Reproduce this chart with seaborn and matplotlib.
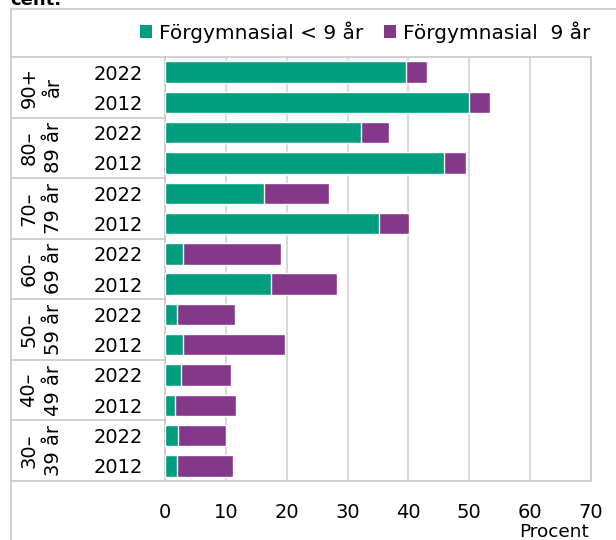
import matplotlib
matplotlib.use("Agg")
import matplotlib.pyplot as plt
import seaborn as sns
import pandas as pd
from matplotlib.transforms import blended_transform_factory
from matplotlib.patches import Rectangle, Patch

sns.set_style("white")
plt.rcParams['font.family'] = ['DejaVu Sans']
plt.rcParams['text.color'] = 'black'
plt.rcParams['xtick.color'] = 'black'
plt.rcParams['ytick.color'] = 'black'

groups = ["90+\når", "80–\n89 år", "70–\n79 år", "60–\n69 år", "50–\n59 år", "40–\n49 år", "30–\n39 år"]
years = ["2022", "2012"]
under9 = [39.6, 49.9, 32.2, 45.9, 16.3, 35.2, 2.9, 17.4, 2.0, 2.9, 2.7, 1.7, 2.2, 2.0]
nine = [3.5, 3.5, 4.6, 3.5, 10.6, 4.9, 16.1, 10.9, 9.5, 16.8, 8.2, 10.0, 7.9, 9.1]
series_labels = ["Förgymnasial < 9 år", "Förgymnasial  9 år"]
colors = ["#009E7E", "#843889"]

rows = []
keys = []
i = 0
for g in groups:
    for y in years:
        key = g.replace("\n", " ") + " " + y
        keys.append(key)
        rows.append({"key": key, "year": y, "under9": under9[i], "total": under9[i] + nine[i]})
        i += 1
df = pd.DataFrame(rows)

W, H = 616, 540
fig = plt.figure(figsize=(W / 100, H / 100), dpi=100)
L, R, T, B = 165, 591, 57, 481
ax = fig.add_axes([L / W, 1 - B / H, (R - L) / W, (B - T) / H])

sns.barplot(data=df, y="key", x="total", order=keys, color=colors[1], orient="h",
            width=0.71, edgecolor="white", linewidth=1, saturation=1, ax=ax, zorder=3)
sns.barplot(data=df, y="key", x="under9", order=keys, color=colors[0], orient="h",
            width=0.71, edgecolor="white", linewidth=1, saturation=1, ax=ax, zorder=4)

ax.set_xlim(0, 70)
ax.set_ylim(len(keys) - 0.5, -0.5)
ax.set_xticks(range(0, 71, 10))
ax.set_xticklabels([str(v) for v in range(0, 71, 10)], fontsize=14)
ax.set_yticks(range(len(keys)))
ax.set_yticklabels([k[-4:] for k in keys], fontsize=14)
ax.tick_params(axis="y", length=0, pad=16)
ax.tick_params(axis="x", length=8, color="#d0d0d0", width=1.2, pad=8)
ax.set_xlabel("")
ax.set_ylabel("")
ax.grid(axis="x", color="#d9d9d9", linewidth=1.5, zorder=0)
ax.set_axisbelow(True)
for s in ax.spines.values():
    s.set_color("#c8c8c8")
    s.set_linewidth(1.2)

# group labels and separators
tr = blended_transform_factory(fig.transFigure, ax.transData)
for gi, g in enumerate(groups):
    ax.text(41 / W, gi * 2 + 0.5, g, rotation=90, ha="center", va="center",
            fontsize=14, transform=tr, linespacing=1.35)
    if gi > 0:
        ax.plot([11 / W, L / W], [gi * 2 - 0.5] * 2, color="#c8c8c8", lw=1.2,
                transform=tr, clip_on=False)
for yy in (-0.5, len(keys) - 0.5):
    ax.plot([11 / W, L / W], [yy] * 2, color="#c8c8c8", lw=1.2, transform=tr, clip_on=False)

# outer frame
fig.add_artist(Rectangle((11 / W, -0.2), 2, 1.2 - 9 / H, transform=fig.transFigure,
                         fill=False, edgecolor="#c8c8c8", lw=1.2))

# legend
handles = [Patch(facecolor=c, edgecolor="none") for c in colors]
fig.legend(handles, series_labels, loc="center", bbox_to_anchor=(365 / W, 1 - 32 / H),
           ncol=2, frameon=False, fontsize=14.5, handlelength=0.6, handleheight=0.6,
           handletextpad=0.35, columnspacing=1.0)

fig.text(554 / W, 1 - 532 / H, "Procent", ha="center", va="center", fontsize=13.3)
fig.text(10 / W, 1.0, "cent.", ha="left", va="center", fontsize=13, fontweight="bold")

fig.savefig("out.png", dpi=100)
